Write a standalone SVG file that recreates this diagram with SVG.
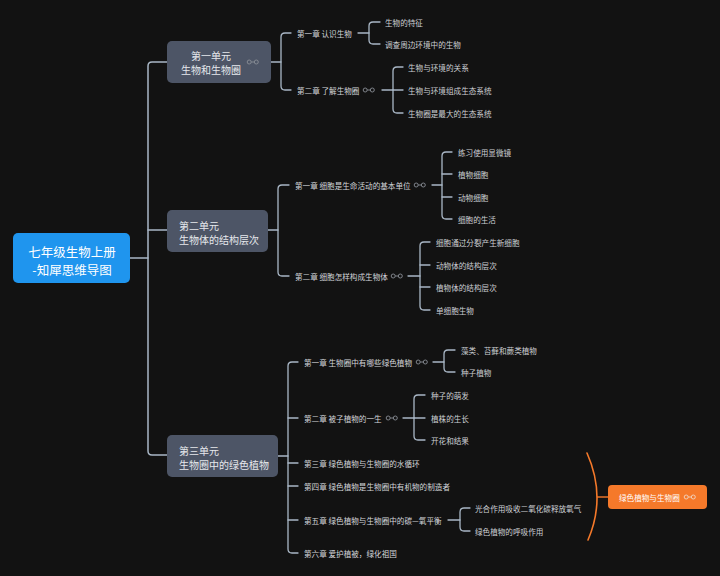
<svg xmlns="http://www.w3.org/2000/svg" width="720" height="576" viewBox="0 0 720 576">
<defs>
<style>
text{font-family:"Noto Sans CJK SC","Noto Sans",sans-serif;dominant-baseline:central}
.root{font-size:12.5px;fill:#ffffff;text-anchor:middle}
.unit{font-size:10px;fill:#e6e8ec}
.ch{font-size:7.6px;fill:#d4d6da}
.leaf{font-size:7.6px;fill:#cdd0d4}
.sum{font-size:7.6px;fill:#ffffff}
.ln{fill:none;stroke:#a9b7c6;stroke-width:1.5;stroke-linecap:round}
.ln2{fill:none;stroke:#a9b7c6;stroke-width:1.3;stroke-linecap:round}
.ic{fill:none;stroke:#8a8e96;stroke-width:0.9}
.icw{fill:none;stroke:#f0d6c4;stroke-width:0.9}
.ubox{fill:#4d5566}
</style>
<g id="fold"><circle cx="2.2" cy="0" r="2"/><circle cx="9.3" cy="0" r="2"/><line x1="4.2" y1="0" x2="7.3" y2="0"/></g>
</defs>
<rect x="0" y="0" width="720" height="576" fill="#121212"/>

<g id="connectors">
<path class="ln" d="M130 258 H148"/>
<path class="ln" d="M167 62 H152 Q148 62 148 66 V451 Q148 455 152 455 H167"/>
<path class="ln" d="M148 230 H167"/>
<!-- unit1 -->
<path class="ln2" d="M271 62 H281"/>
<path class="ln2" d="M291 33 H285 Q281 33 281 37 V86 Q281 90 285 90 H291"/>
<path class="ln2" d="M358 33 H369"/>
<path class="ln2" d="M380 22 H373 Q369 22 369 26 V40 Q369 44 373 44 H380"/>
<path class="ln2" d="M382 90 H393"/>
<path class="ln2" d="M403 67 H397 Q393 67 393 71 V109 Q393 113 397 113 H403"/>
<path class="ln2" d="M393 90 H403"/>
<!-- unit2 -->
<path class="ln2" d="M268 230 H278"/>
<path class="ln2" d="M289 185 H282 Q278 185 278 189 V272 Q278 276 282 276 H289"/>
<path class="ln2" d="M432 185 H442"/>
<path class="ln2" d="M452 152 H446 Q442 152 442 156 V215 Q442 219 446 219 H452"/>
<path class="ln2" d="M442 174 H452 M442 197 H452"/>
<path class="ln2" d="M408 276 H420"/>
<path class="ln2" d="M430 242 H424 Q420 242 420 246 V306 Q420 310 424 310 H430"/>
<path class="ln2" d="M420 265 H430 M420 287 H430"/>
<!-- unit3 -->
<path class="ln2" d="M278 456 H288"/>
<path class="ln2" d="M298 362 H292 Q288 362 288 366 V549 Q288 553 292 553 H298"/>
<path class="ln2" d="M288 418 H298 M288 463 H298 M288 486 H298 M288 520 H298"/>
<path class="ln2" d="M433 362 H444"/>
<path class="ln2" d="M455 350 H448 Q444 350 444 354 V368 Q444 372 448 372 H455"/>
<path class="ln2" d="M403 418 H414"/>
<path class="ln2" d="M425 395 H418 Q414 395 414 399 V436 Q414 440 418 440 H425"/>
<path class="ln2" d="M414 418 H425"/>
<path class="ln2" d="M448 520 H460"/>
<path class="ln2" d="M470 508 H464 Q460 508 460 512 V527 Q460 531 464 531 H470"/>
<!-- summary -->
<path d="M587 453 Q606.5 497 588 540" fill="none" stroke="#f5792a" stroke-width="1.6" stroke-linecap="round"/>
<path d="M597 497 H608" fill="none" stroke="#f5792a" stroke-width="1.4"/>
</g>

<g id="root">
<rect x="13" y="233" width="117" height="50" rx="5" fill="#1f95ee"/>
<text class="root" x="72" y="251.5">七年级生物上册</text>
<text class="root" x="72" y="269">-知犀思维导图</text>
</g>

<g id="unit1">
<rect class="ubox" x="167" y="41" width="104" height="42" rx="5"/>
<text class="unit" x="211" y="55" text-anchor="middle">第一单元</text>
<text class="unit" x="211" y="69" text-anchor="middle">生物和生物圈</text>
<use href="#fold" class="ic" x="247" y="62"/>
</g>
<g id="u1c1"><text class="ch" x="297" y="33">第一章 认识生物</text></g>
<g id="u1c1l1"><text class="leaf" x="385" y="22">生物的特征</text></g>
<g id="u1c1l2"><text class="leaf" x="385" y="44">调查周边环境中的生物</text></g>
<g id="u1c2"><text class="ch" x="297" y="90">第二章 了解生物圈</text><use href="#fold" class="ic" x="363" y="90"/></g>
<g id="u1c2l1"><text class="leaf" x="408" y="67">生物与环境的关系</text></g>
<g id="u1c2l2"><text class="leaf" x="408" y="90">生物与环境组成生态系统</text></g>
<g id="u1c2l3"><text class="leaf" x="408" y="113">生物圈是最大的生态系统</text></g>

<g id="unit2">
<rect class="ubox" x="167" y="210" width="101" height="42" rx="5"/>
<text class="unit" x="179" y="225">第二单元</text>
<text class="unit" x="179" y="239">生物体的结构层次</text>
</g>
<g id="u2c1"><text class="ch" x="295" y="185">第一章 细胞是生命活动的基本单位</text><use href="#fold" class="ic" x="414" y="185"/></g>
<g id="u2c1l1"><text class="leaf" x="458" y="152">练习使用显微镜</text></g>
<g id="u2c1l2"><text class="leaf" x="458" y="174">植物细胞</text></g>
<g id="u2c1l3"><text class="leaf" x="458" y="197">动物细胞</text></g>
<g id="u2c1l4"><text class="leaf" x="458" y="219">细胞的生活</text></g>
<g id="u2c2"><text class="ch" x="295" y="276">第二章 细胞怎样构成生物体</text><use href="#fold" class="ic" x="391" y="276"/></g>
<g id="u2c2l1"><text class="leaf" x="436" y="242">细胞通过分裂产生新细胞</text></g>
<g id="u2c2l2"><text class="leaf" x="436" y="265">动物体的结构层次</text></g>
<g id="u2c2l3"><text class="leaf" x="436" y="287">植物体的结构层次</text></g>
<g id="u2c2l4"><text class="leaf" x="436" y="310">单细胞生物</text></g>

<g id="unit3">
<rect class="ubox" x="167" y="435" width="111" height="42" rx="5"/>
<text class="unit" x="179" y="450">第三单元</text>
<text class="unit" x="179" y="464.5">生物圈中的绿色植物</text>
</g>
<g id="u3c1"><text class="ch" x="304" y="362">第一章 生物圈中有哪些绿色植物</text><use href="#fold" class="ic" x="416" y="362"/></g>
<g id="u3c1l1"><text class="leaf" x="461" y="350">藻类、苔藓和蕨类植物</text></g>
<g id="u3c1l2"><text class="leaf" x="461" y="372">种子植物</text></g>
<g id="u3c2"><text class="ch" x="304" y="418">第二章 被子植物的一生</text><use href="#fold" class="ic" x="386" y="418"/></g>
<g id="u3c2l1"><text class="leaf" x="431" y="395">种子的萌发</text></g>
<g id="u3c2l2"><text class="leaf" x="431" y="418">植株的生长</text></g>
<g id="u3c2l3"><text class="leaf" x="431" y="440">开花和结果</text></g>
<g id="u3c3"><text class="ch" x="304" y="463">第三章 绿色植物与生物圈的水循环</text></g>
<g id="u3c4"><text class="ch" x="304" y="486">第四章 绿色植物是生物圈中有机物的制造者</text></g>
<g id="u3c5"><text class="ch" x="304" y="520">第五章 绿色植物与生物圈中的碳—氧平衡</text></g>
<g id="u3c5l1"><text class="leaf" x="475" y="508">光合作用吸收二氧化碳释放氧气</text></g>
<g id="u3c5l2"><text class="leaf" x="475" y="531">绿色植物的呼吸作用</text></g>
<g id="u3c6"><text class="ch" x="304" y="553">第六章 爱护植被，绿化祖国</text></g>

<g id="summary">
<rect x="608" y="485" width="99" height="24" rx="4" fill="#f5792a"/>
<text class="sum" x="619" y="497">绿色植物与生物圈</text>
<use href="#fold" class="icw" x="684" y="497"/>
</g>
</svg>
